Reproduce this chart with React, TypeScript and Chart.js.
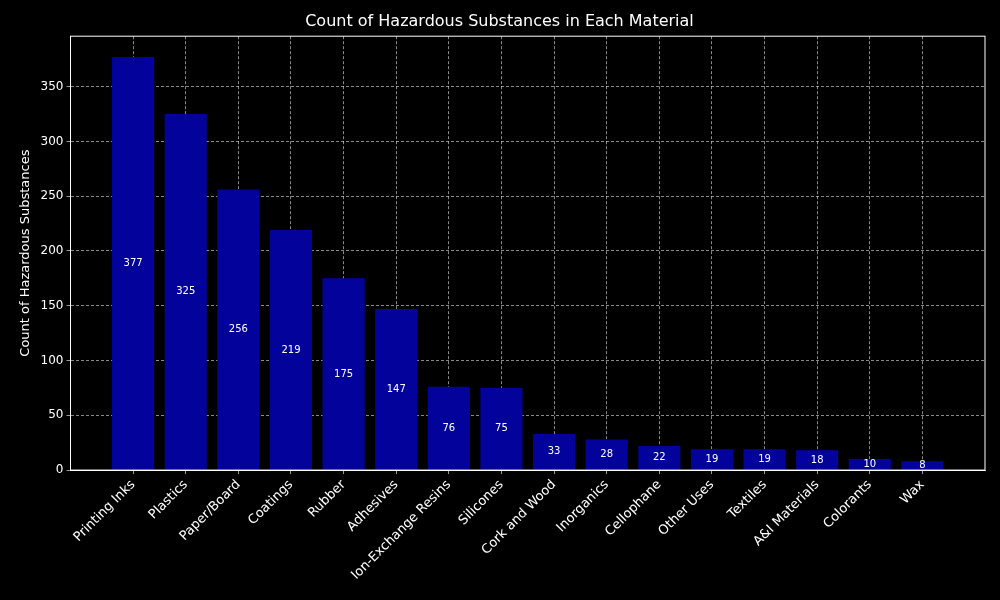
import React, { useEffect, useRef } from "react";
import { Chart, registerables } from "chart.js";
Chart.register(...registerables);

const categories = ["Printing Inks","Plastics","Paper/Board","Coatings","Rubber","Adhesives","Ion-Exchange Resins","Silicones","Cork and Wood","Inorganics","Cellophane","Other Uses","Textiles","A&I Materials","Colorants","Wax"];
const counts = [377,325,256,219,175,147,76,75,33,28,22,19,19,18,10,8];
const yTicks = [0,50,100,150,200,250,300,350];

const labelPlugin = {
  id: "vals",
  afterDatasetsDraw(chart: any) {
    const ctx = chart.ctx;
    const meta = chart.getDatasetMeta(0);
    ctx.save();
    ctx.fillStyle = "#fff";
    ctx.font = "10px 'DejaVu Sans'";
    ctx.textAlign = "center";
    ctx.textBaseline = "middle";
    meta.data.forEach((el: any, i: number) => {
      ctx.fillText(String(counts[i]), el.x, (el.y + el.base) / 2);
    });
    ctx.restore();
  },
};

export default function App() {
  const ref = useRef<HTMLCanvasElement>(null);
  useEffect(() => {
    document.body.style.margin = "0";
    document.body.style.background = "#000";
    const grid = { color: "rgba(255,255,255,0.9)", lineWidth: 0.6, offset: false, tickColor: "#fff", tickLength: 4 } as any;
    const border = { display: true, color: "#fff", width: 1, dash: [3, 2] } as any;
    const chart = new Chart(ref.current!, {
      type: "bar",
      data: {
        datasets: [{
          data: counts.map((v, i) => ({ x: i, y: v })),
          backgroundColor: "#03039b",
          barPercentage: 0.8,
          categoryPercentage: 1,
        }],
      },
      options: {
        animation: false,
        responsive: false,
        layout: { padding: { top: 2, right: 15, left: 14, bottom: 14 } },
        plugins: {
          legend: { display: false },
          tooltip: { enabled: false },
          title: { display: true, text: "Count of Hazardous Substances in Each Material", color: "#fff", font: { family: "DejaVu Sans", size: 16, weight: "normal" }, padding: { top: 10, bottom: 5 } },
        },
        scales: {
          x: {
            type: "linear", min: -1.19, max: 16.19, offset: false,
            afterBuildTicks: (s: any) => { s.ticks = categories.map((_, i) => ({ value: i })); },
            ticks: { color: "#fff", font: { family: "DejaVu Sans", size: 13 }, maxRotation: 45, minRotation: 45, autoSkip: false,
              callback: (v: any) => categories[v as number] ?? "" },
            grid,
            border,
          },
          y: {
            min: 0, max: 396,
            afterBuildTicks: (s: any) => { s.ticks = yTicks.map((v) => ({ value: v })); },
            ticks: { color: "#fff", font: { family: "DejaVu Sans", size: 12 } },
            title: { display: true, text: "Count of Hazardous Substances", color: "#fff", font: { family: "DejaVu Sans", size: 13 } },
            grid,
            border,
          },
        },
      },
      plugins: [labelPlugin, {
        id: "frame",
        afterDraw(c: any) {
          const { left, right, top, bottom } = c.chartArea; const ctx = c.ctx;
          ctx.save(); ctx.strokeStyle = "#fff"; ctx.lineWidth = 1; ctx.setLineDash([]); ctx.strokeRect(left, top, right - left, bottom - top); ctx.restore();
        },
      }],
    } as any);
    return () => chart.destroy();
  }, []);
  return <div style={{ background: "#000", width: 1000, height: 600 }}><canvas ref={ref} width={1000} height={600} /></div>;
}
